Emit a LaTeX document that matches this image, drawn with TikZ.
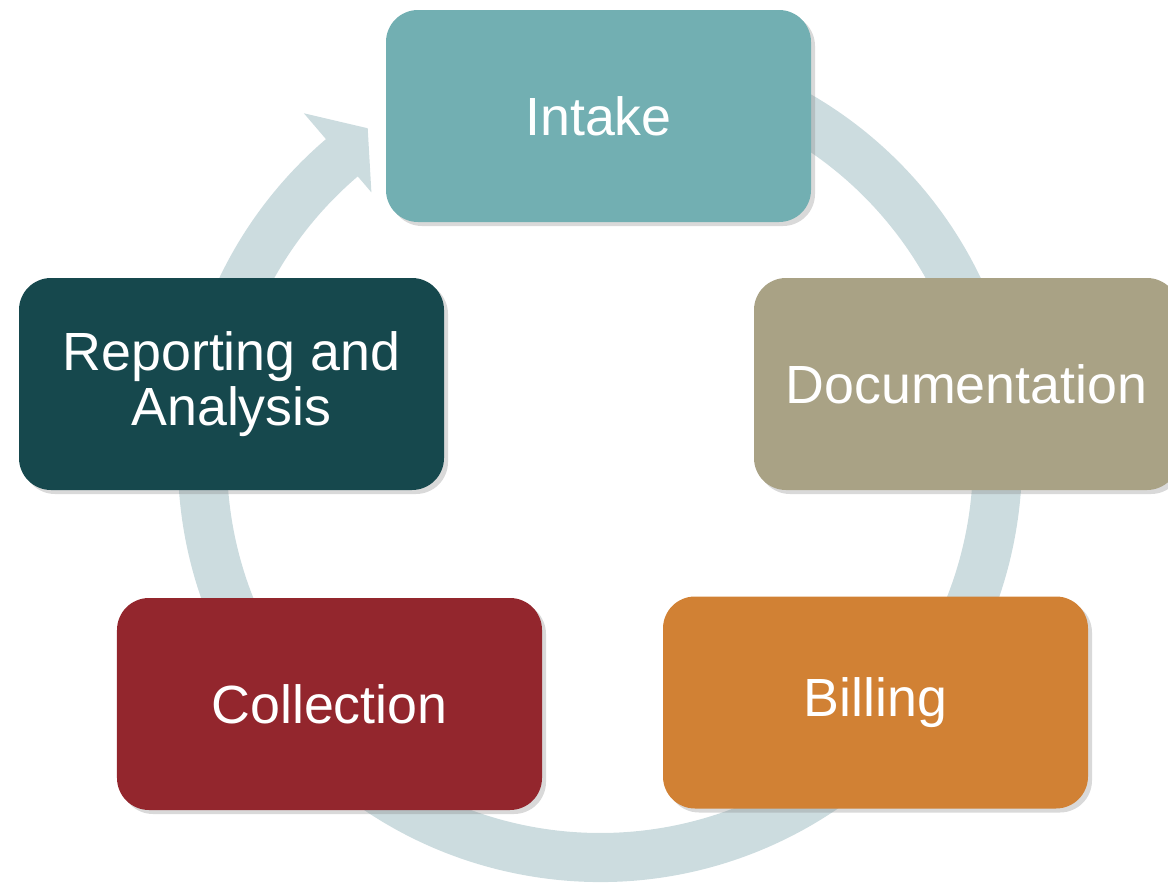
\documentclass[tikz,border=0pt]{standalone}
\usepackage{fontspec}
\setmainfont{Liberation Sans}
\usetikzlibrary{shadows}
\definecolor{ringcol}{HTML}{CCDCDF}
\definecolor{intakecol}{HTML}{72AFB2}
\definecolor{doccol}{HTML}{A9A285}
\definecolor{billcol}{HTML}{D18134}
\definecolor{collcol}{HTML}{93262D}
\definecolor{repcol}{HTML}{16484D}
\begin{document}
\begin{tikzpicture}[
  stage/.style={rounded corners=0.32cm, minimum width=4.25cm, minimum height=2.12cm,
    inner sep=0pt, align=center, text=white, font=\fontsize{15.3}{15.8}\selectfont,
    drop shadow={shadow xshift=0.04cm, shadow yshift=-0.04cm, opacity=0.3}}]
\useasboundingbox (0,0) rectangle (11.68,8.85);
% Cycle ring with its arrow head
\begin{scope}[shift={(6,4.25)}]
\fill[ringcol] (80:4.22) arc[start angle=80, end angle=-229.5, radius=4.22]
  -- (130.5:4.56) -- (125:4.05) -- (130.5:3.52)
  -- (130.5:3.73) arc[start angle=-229.5, end angle=80, radius=3.73] -- cycle;
\end{scope}
% Stages
\node[stage, fill=intakecol] (intake) at (5.985,7.69) {Intake};
\node[stage, fill=doccol] (doc) at (9.665,5.01) {Documentation};
\node[stage, fill=billcol] (billing) at (8.755,1.825) {Billing};
\node[stage, fill=collcol] (collection) at (3.295,1.81) {Collection};
\node[stage, fill=repcol] (reporting) at (2.315,5.01) {Reporting and\\Analysis};
\end{tikzpicture}
\end{document}
